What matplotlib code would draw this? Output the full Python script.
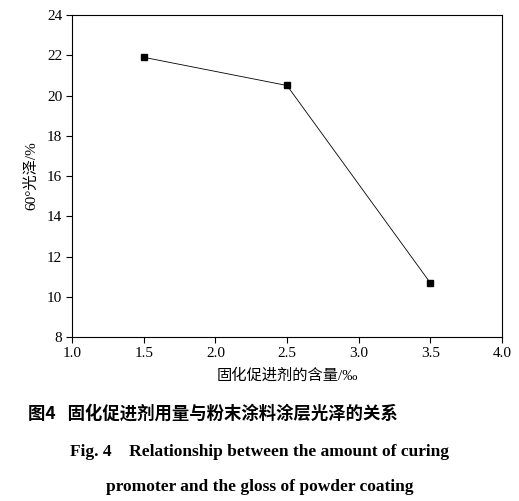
import matplotlib
matplotlib.use("Agg")
import matplotlib.pyplot as plt

x_vals = [1.5, 2.5, 3.5]
gloss = [21.9, 20.5, 10.7]
xticks = [1.0, 1.5, 2.0, 2.5, 3.0, 3.5, 4.0]
yticks = [8, 10, 12, 14, 16, 18, 20, 22, 24]

fam = ['Liberation Serif', 'Noto Sans CJK SC', 'DejaVu Sans']
plt.rcParams['font.family'] = fam

fig = plt.figure(figsize=(5.19, 5.01), dpi=100)
ax = fig.add_axes([0.139, 0.327, 0.828, 0.643])
ax.plot(x_vals, gloss, color='black', lw=0.6, marker='s', ms=5)
ax.set_xlim(1.0, 4.0)
ax.set_ylim(8, 24)
ax.set_xticks(xticks)
ax.set_xticklabels([f"{v:.1f}" for v in xticks])
ax.set_yticks(yticks)
ax.tick_params(direction='out', labelsize=11, length=4, pad=3)
ax.set_xlabel("固化促进剂的含量/‰", fontsize=11, labelpad=6)
ax.set_ylabel("60°光泽/%", fontsize=11, labelpad=6)

fig.text(0.41, 0.165, "图4   固化促进剂用量与粉末涂料涂层光泽的关系",
         ha='center', fontsize=12.5, fontweight='bold', family=['Noto Sans CJK SC', 'DejaVu Sans'])
fig.text(0.5, 0.09, "Fig. 4    Relationship between the amount of curing",
         ha='center', fontsize=12.5, fontweight='bold')
fig.text(0.5, 0.02, "promoter and the gloss of powder coating",
         ha='center', fontsize=12.5, fontweight='bold')

fig.savefig("out.png", dpi=100)
